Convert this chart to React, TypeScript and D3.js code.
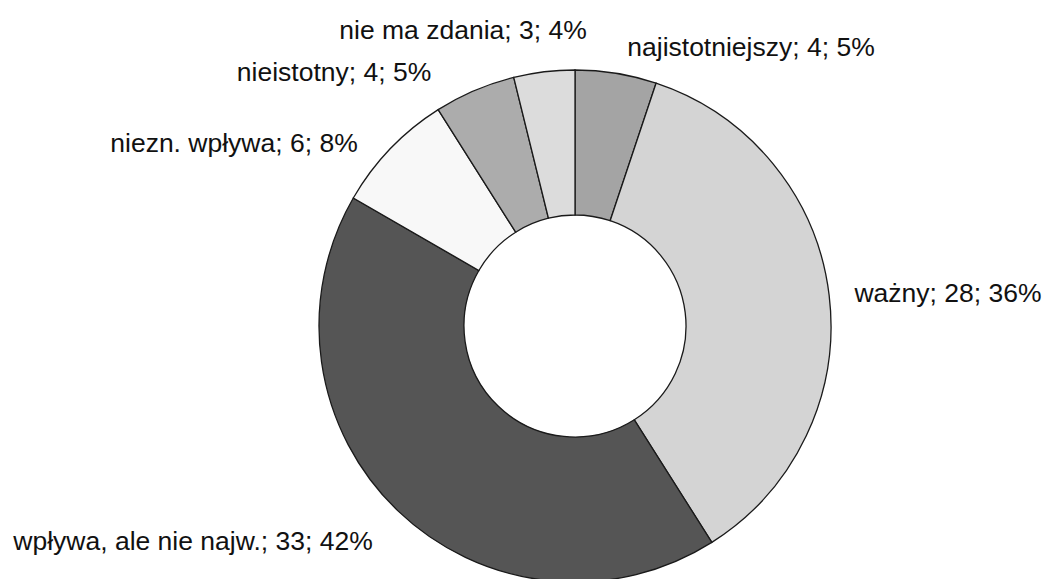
import React from "react";
import * as d3 from "d3";

const categories = ["najistotniejszy", "ważny", "wpływa, ale nie najw.", "niezn. wpływa", "nieistotny", "nie ma zdania"];
const values = [4, 28, 33, 6, 4, 3];
const fills = ["#a4a4a4", "#d4d4d4", "#555555", "#f8f8f8", "#acacac", "#dcdcdc"];
// label baseline-centre offsets relative to the pie centre (layout only)
const labelOffsets: [number, number][] = [
  [176, -270],
  [373, -24],
  [-382, 224],
  [-341, -174],
  [-241, -245],
  [-112, -287],
];

const W = 1048;
const H = 579;
const cx = 575;
const cy = 326;
const outerR = 256;
const innerR = 111;

export default function App() {
  const total = d3.sum(values);
  const pie = d3.pie<number>().sort(null).value((d) => d)(values);
  const arc = d3.arc<d3.PieArcDatum<number>>().innerRadius(innerR).outerRadius(outerR);
  const pct = (v: number) => Math.round((v / total) * 100);
  return (
    <svg width={W} height={H} style={{ position: "absolute", left: 0, top: 0, background: "#fff" }}>
      <g transform={`translate(${cx},${cy})`}>
        {pie.map((p, i) => (
          <path key={i} d={arc(p) || ""} fill={fills[i]} stroke="#1a1a1a" strokeWidth={1.3} />
        ))}
        {pie.map((p, i) => (
          <text
            key={"t" + i}
            x={labelOffsets[i][0]}
            y={labelOffsets[i][1]}
            textAnchor="middle"
            fontFamily="'Liberation Sans', Arial, sans-serif"
            fontSize={26.5}
            fill="#111"
          >
            {`${categories[i]}; ${values[i]}; ${pct(values[i])}%`}
          </text>
        ))}
      </g>
    </svg>
  );
}
